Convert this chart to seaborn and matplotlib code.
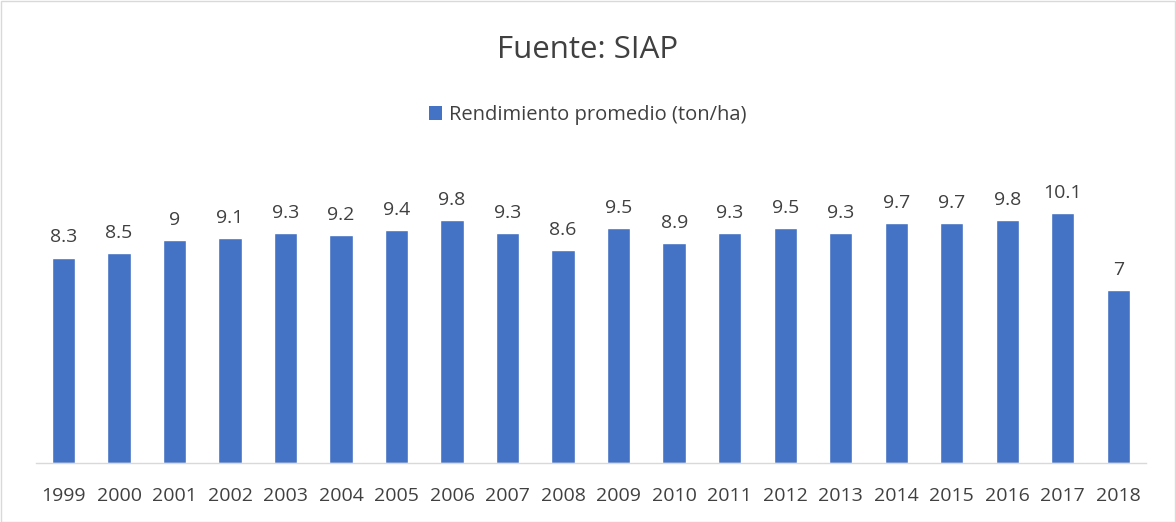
import matplotlib
matplotlib.use("Agg")
import matplotlib.pyplot as plt
import seaborn as sns
import pandas as pd
from matplotlib.patches import Rectangle, Patch


years = ["1999", "2000", "2001", "2002", "2003", "2004", "2005", "2006", "2007", "2008",
         "2009", "2010", "2011", "2012", "2013", "2014", "2015", "2016", "2017", "2018"]
yields = [8.3, 8.5, 9, 9.1, 9.3, 9.2, 9.4, 9.8, 9.3, 8.6,
          9.5, 8.9, 9.3, 9.5, 9.3, 9.7, 9.7, 9.8, 10.1, 7]
value_labels = ["8.3", "8.5", "9", "9.1", "9.3", "9.2", "9.4", "9.8", "9.3", "8.6",
                "9.5", "8.9", "9.3", "9.5", "9.3", "9.7", "9.7", "9.8", "10.1", "7"]

series_name = "Rendimiento promedio (ton/ha)"
title = "Fuente: SIAP"

df = pd.DataFrame({"year": years, "value": yields})

sns.set_theme(style="white")
plt.rcParams["font.family"] = ["Open Sans", "DejaVu Sans"]

BLUE = "#4472C4"
TEXT = "#404040"
GRID = "#D9D9D9"

W, H = 1176, 522
fig = plt.figure(figsize=(W / 100, H / 100), dpi=100)

# axes placement in pixel coords
left, right = 35.75, 1146
bottom, top = 463, 166
ax = fig.add_axes([left / W, 1 - bottom / H, (right - left) / W, (bottom - top) / H])

sns.barplot(data=df, x="year", y="value", color=BLUE, width=0.42,
            saturation=1, ax=ax)

ax.set_ylim(0, 12)
ax.set_xlim(-0.5, len(years) - 0.5)
ax.set_xlabel("")
ax.set_ylabel("")
ax.set_yticks([])
for s in ["left", "right", "top"]:
    ax.spines[s].set_visible(False)
ax.spines["bottom"].set_color(GRID)
ax.spines["bottom"].set_linewidth(1)
ax.tick_params(axis="x", length=0, pad=17, labelsize=14, labelcolor=TEXT)

for i, (v, lab) in enumerate(zip(yields, value_labels)):
    ax.annotate(lab, (i, v), xytext=(0, 8), textcoords="offset points",
                ha="center", va="bottom", fontsize=14, color=TEXT)

handle = Patch(facecolor=BLUE, edgecolor="none", label=series_name)
fig.legend(handles=[handle], loc="center", bbox_to_anchor=(0.5, 1 - 115 / H),
           frameon=False, fontsize=14.5, handlelength=0.65, handleheight=0.65,
           handletextpad=0.35, labelcolor=TEXT)

fig.text(0.5, 1 - 50 / H, title, ha="center", va="center", fontsize=22.5, color=TEXT)

# outer border
fig.patches.append(Rectangle((0.5 / W, 0.5 / H), (W - 1.5) / W, (H - 1.5) / H,
                             transform=fig.transFigure, fill=False,
                             edgecolor=GRID, linewidth=1))

fig.savefig("out.png", dpi=100)
plt.close(fig)
